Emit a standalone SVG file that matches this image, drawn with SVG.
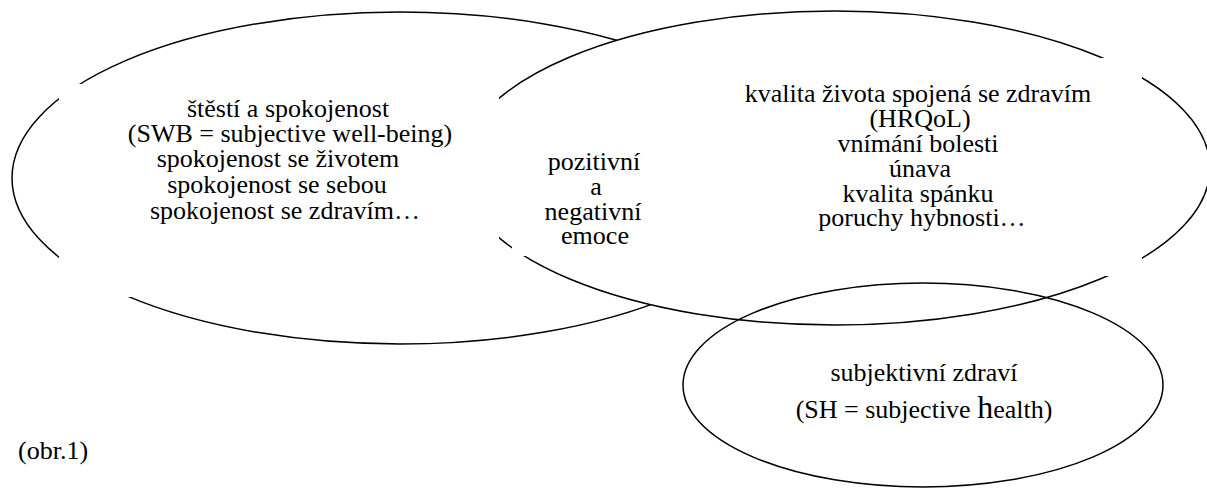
<svg xmlns="http://www.w3.org/2000/svg" width="1207" height="488" viewBox="0 0 1207 488">
<style>
.t{font-family:"Liberation Serif","DejaVu Serif",serif;font-size:26px;fill:#000}
.c{text-anchor:middle}
.ln{fill:none;stroke:#000;stroke-width:1.5}
</style>
<defs>
<mask id="m-swb" maskUnits="userSpaceOnUse" x="0" y="0" width="1207" height="488">
<rect x="0" y="0" width="1207" height="488" fill="#fff"/>
<rect x="59" y="84" width="443" height="213" fill="#000"/>
</mask>
<mask id="m-hrq" maskUnits="userSpaceOnUse" x="0" y="0" width="1207" height="488">
<rect x="0" y="0" width="1207" height="488" fill="#fff"/>
<rect x="59" y="84" width="440" height="213" fill="#000"/>
<rect x="512" y="130" width="170" height="126" fill="#000"/>
<rect x="700" y="58" width="442" height="218" fill="#000"/>
</mask>
</defs>
<rect width="1207" height="488" fill="#fff"/>
<g id="swb">
<ellipse class="ln" cx="400" cy="178" rx="388" ry="166" mask="url(#m-swb)"/>
<text class="t c" x="288" y="117">štěstí a spokojenost</text>
<text class="t c" x="290" y="142">(SWB = subjective well-being)</text>
<text class="t c" x="278" y="167">spokojenost se životem</text>
<text class="t c" x="277" y="193">spokojenost se sebou</text>
<text class="t c" x="285" y="219">spokojenost se zdravím…</text>
</g>
<g id="hrqol">
<ellipse cx="835" cy="168" rx="375" ry="157" fill="#fff"/>
<ellipse class="ln" cx="835" cy="168" rx="375" ry="157" mask="url(#m-hrq)"/>
<text class="t c" x="918" y="102">kvalita života spojená se zdravím</text>
<text class="t c" x="920" y="127">(HRQoL)</text>
<text class="t c" x="918" y="152">vnímání bolesti</text>
<text class="t c" x="920" y="177">únava</text>
<text class="t c" x="918" y="202">kvalita spánku</text>
<text class="t c" x="922" y="226">poruchy hybnosti…</text>
</g>
<g id="emoce">
<text class="t c" x="594" y="170">pozitivní</text>
<text class="t c" x="596" y="195">a</text>
<text class="t c" x="593" y="220">negativní</text>
<text class="t c" x="595" y="244">emoce</text>
</g>
<g id="sh">
<ellipse class="ln" cx="923" cy="385" rx="240" ry="102" fill="#fff"/>
<text class="t c" x="924" y="381">subjektivní zdraví</text>
<text class="t c" x="924" y="418">(SH = subjective <tspan font-size="32">h</tspan>ealth)</text>
</g>
<g id="caption">
<text class="t" x="18" y="459">(obr.1)</text>
</g>
</svg>
